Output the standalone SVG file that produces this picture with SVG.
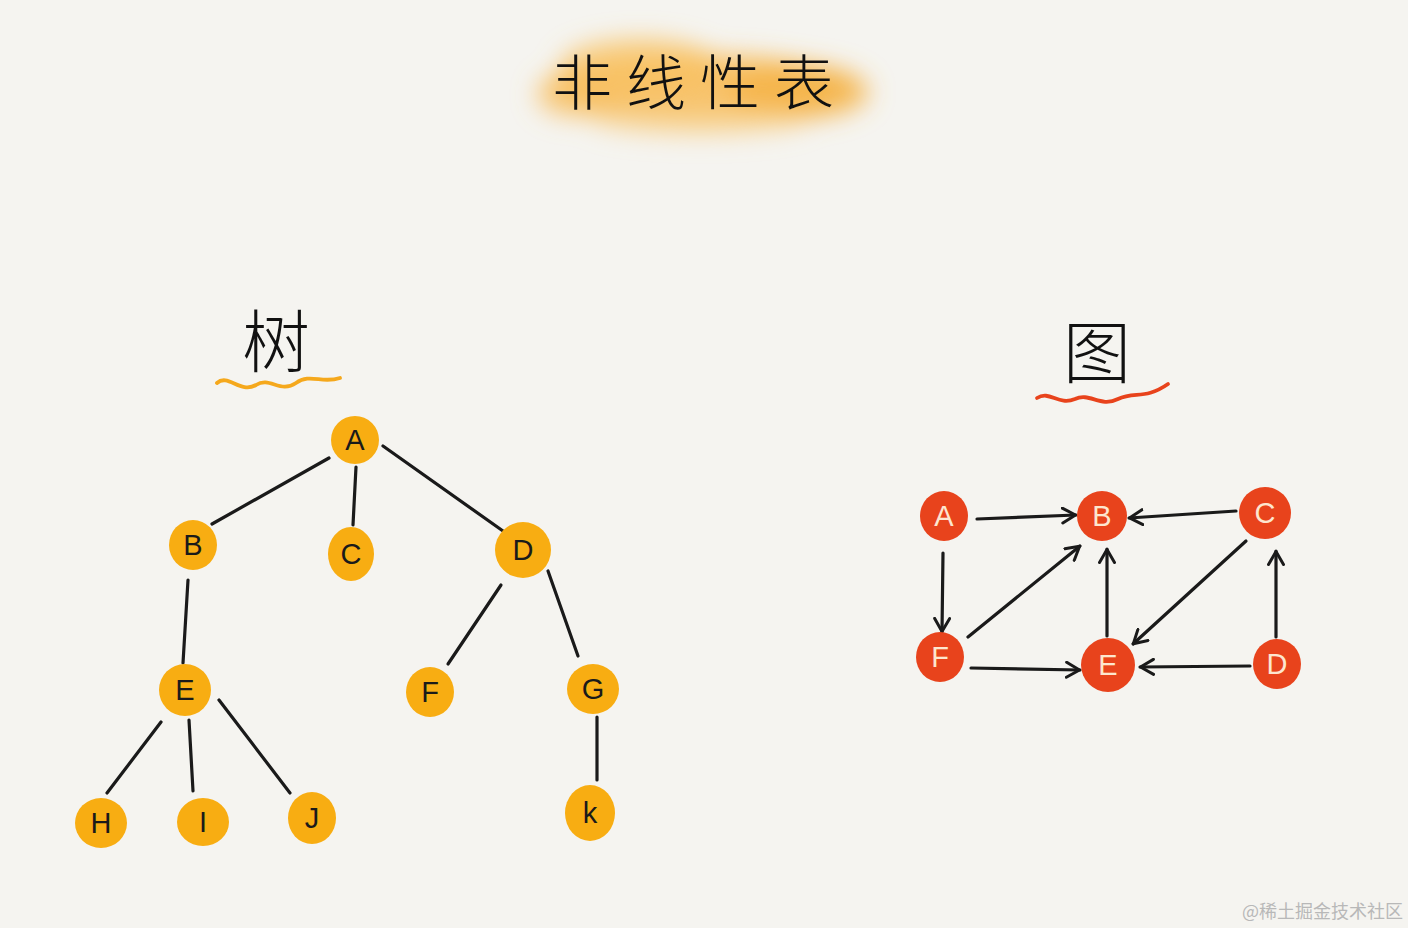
<svg xmlns="http://www.w3.org/2000/svg" width="1408" height="928" viewBox="0 0 1408 928">
<style>
.bg{fill:#f5f4f0}
.tn{fill:#f8ad12}
.gn{fill:#e8431c}
.tl{font-family:"Liberation Sans","DejaVu Sans",sans-serif;font-size:29px;fill:#1a1a1a;text-anchor:middle;dominant-baseline:central}
.gl{font-family:"Liberation Sans","DejaVu Sans",sans-serif;font-size:29px;fill:#fde6cf;text-anchor:middle;dominant-baseline:central}
.edge{stroke:#1a1a1a;stroke-width:3.2;fill:none;stroke-linecap:round}
.cjk{font-family:"Noto Sans CJK SC","Noto Sans CJK JP",sans-serif;fill:#111;text-anchor:middle}
.wm{font-family:"Noto Sans CJK SC",sans-serif;font-size:18px;fill:#b8b8b8}
</style>
<defs>
<marker id="arr" viewBox="0 0 16 18" refX="15" refY="9" markerWidth="16" markerHeight="18" markerUnits="userSpaceOnUse" orient="auto">
<path d="M1.5,1.5 L14.5,9 L1.5,16.5" fill="none" stroke="#1a1a1a" stroke-width="3" stroke-linecap="round" stroke-linejoin="round"/>
</marker>
<filter id="blur" x="-30%" y="-80%" width="160%" height="260%"><feGaussianBlur stdDeviation="12"/></filter>
</defs>
<rect class="bg" x="0" y="0" width="1408" height="928"/>

<g id="title">
<g filter="url(#blur)">
<ellipse cx="700" cy="88" rx="155" ry="34" fill="#f7b547" opacity="0.8"/>
<ellipse cx="640" cy="66" rx="80" ry="28" fill="#f8c262" opacity="0.75"/>
<ellipse cx="800" cy="92" rx="70" ry="28" fill="#f5b040" opacity="0.7"/>
<ellipse cx="700" cy="120" rx="110" ry="16" fill="#f9cd80" opacity="0.6"/>
<ellipse cx="575" cy="95" rx="40" ry="24" fill="#f8c062" opacity="0.6"/>
</g>
<text class="cjk" x="700" y="105" font-size="60" font-weight="300" letter-spacing="14">非线性表</text>
</g>

<g id="tree-label">
<text class="cjk" x="276" y="367" font-size="68" font-weight="300">树</text>
<path d="M217,383 C228,373 240,394 256,385 C270,376 280,394 296,383 C310,373 322,384 340,378" fill="none" stroke="#f5a81c" stroke-width="3.8" stroke-linecap="round"/>
</g>

<g id="graph-label">
<text class="cjk" x="1097" y="378" font-size="68" font-weight="300">图</text>
<path d="M1037,398 C1050,390 1058,406 1075,399 C1090,392 1100,408 1118,399 C1135,391 1145,400 1168,384" fill="none" stroke="#e8431c" stroke-width="3.8" stroke-linecap="round"/>
</g>

<g id="tree-edges">
<line class="edge" x1="329" y1="458" x2="212" y2="524"/>
<line class="edge" x1="356" y1="467" x2="353" y2="525"/>
<line class="edge" x1="383" y1="446" x2="503" y2="531"/>
<line class="edge" x1="188" y1="580" x2="183" y2="663"/>
<line class="edge" x1="501" y1="585" x2="448" y2="664"/>
<line class="edge" x1="548" y1="571" x2="578" y2="656"/>
<line class="edge" x1="161" y1="722" x2="107" y2="793"/>
<line class="edge" x1="189" y1="720" x2="193" y2="791"/>
<line class="edge" x1="219" y1="700" x2="290" y2="793"/>
<line class="edge" x1="597" y1="717" x2="597" y2="780"/>
</g>

<g id="t-A"><ellipse class="tn" cx="355" cy="440" rx="24" ry="24"/><text class="tl" x="355" y="440">A</text></g>
<g id="t-B"><ellipse class="tn" cx="193" cy="545" rx="24" ry="25"/><text class="tl" x="193" y="545">B</text></g>
<g id="t-C"><ellipse class="tn" cx="351" cy="554" rx="23" ry="27"/><text class="tl" x="351" y="554">C</text></g>
<g id="t-D"><ellipse class="tn" cx="523" cy="550" rx="28" ry="28"/><text class="tl" x="523" y="550">D</text></g>
<g id="t-E"><ellipse class="tn" cx="185" cy="690" rx="26" ry="26"/><text class="tl" x="185" y="690">E</text></g>
<g id="t-F"><ellipse class="tn" cx="430" cy="692" rx="24" ry="25"/><text class="tl" x="430" y="692">F</text></g>
<g id="t-G"><ellipse class="tn" cx="593" cy="689" rx="26" ry="25"/><text class="tl" x="593" y="689">G</text></g>
<g id="t-H"><ellipse class="tn" cx="101" cy="823" rx="26" ry="25"/><text class="tl" x="101" y="823">H</text></g>
<g id="t-I"><ellipse class="tn" cx="203" cy="822" rx="26" ry="24"/><text class="tl" x="203" y="822">I</text></g>
<g id="t-J"><ellipse class="tn" cx="312" cy="818" rx="24" ry="26"/><text class="tl" x="312" y="818">J</text></g>
<g id="t-K"><ellipse class="tn" cx="590" cy="813" rx="25" ry="28"/><text class="tl" x="590" y="813">k</text></g>

<g id="graph-edges">
<line class="edge" x1="977" y1="519" x2="1076" y2="515" marker-end="url(#arr)"/>
<line class="edge" x1="1236" y1="511" x2="1129" y2="518" marker-end="url(#arr)"/>
<line class="edge" x1="943" y1="553" x2="942" y2="632" marker-end="url(#arr)"/>
<line class="edge" x1="968" y1="637" x2="1080" y2="546" marker-end="url(#arr)"/>
<line class="edge" x1="1107" y1="636" x2="1107" y2="549" marker-end="url(#arr)"/>
<line class="edge" x1="1246" y1="541" x2="1133" y2="644" marker-end="url(#arr)"/>
<line class="edge" x1="1276" y1="637" x2="1276" y2="551" marker-end="url(#arr)"/>
<line class="edge" x1="971" y1="668" x2="1080" y2="670" marker-end="url(#arr)"/>
<line class="edge" x1="1250" y1="666" x2="1140" y2="667" marker-end="url(#arr)"/>
</g>

<g id="g-A"><ellipse class="gn" cx="944" cy="516" rx="24" ry="25"/><text class="gl" x="944" y="516">A</text></g>
<g id="g-B"><ellipse class="gn" cx="1102" cy="516" rx="25" ry="25"/><text class="gl" x="1102" y="516">B</text></g>
<g id="g-C"><ellipse class="gn" cx="1265" cy="513" rx="26" ry="26"/><text class="gl" x="1265" y="513">C</text></g>
<g id="g-F"><ellipse class="gn" cx="940" cy="657" rx="24" ry="25"/><text class="gl" x="940" y="657">F</text></g>
<g id="g-E"><ellipse class="gn" cx="1108" cy="665" rx="27" ry="27"/><text class="gl" x="1108" y="665">E</text></g>
<g id="g-D"><ellipse class="gn" cx="1277" cy="664" rx="24" ry="25"/><text class="gl" x="1277" y="664">D</text></g>

<text class="wm" x="1242" y="918">@稀土掘金技术社区</text>
</svg>
